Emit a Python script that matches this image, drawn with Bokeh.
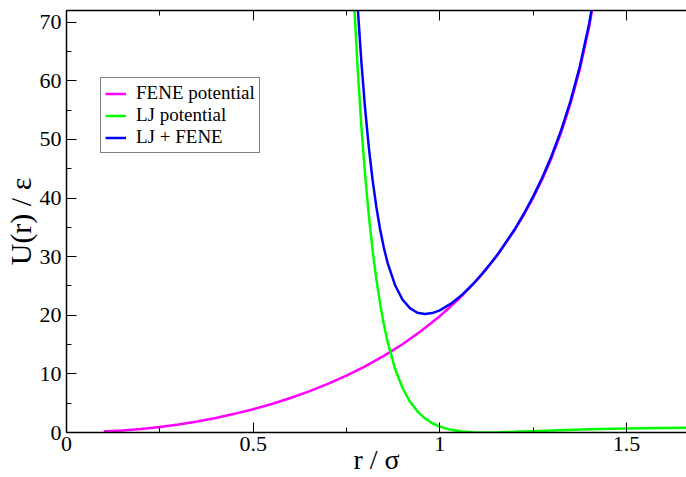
from bokeh.plotting import figure
from bokeh.models import FixedTicker, LinearAxis, Legend, LegendItem
from bokeh.embed import file_html
from bokeh.resources import INLINE

# ---- data ----
fene_r = [0.10, 0.15, 0.20, 0.25, 0.30, 0.35, 0.40, 0.45, 0.50, 0.55, 0.60, 0.65,
          0.70, 0.75, 0.80, 0.85, 0.90, 0.95, 1.00, 1.05, 1.10, 1.15, 1.20, 1.225,
          1.25, 1.275, 1.30, 1.325, 1.35, 1.375, 1.40, 1.42]
fene_u = [0.150, 0.339, 0.605, 0.951, 1.378, 1.889, 2.490, 3.183, 3.975, 4.873, 5.884, 7.020,
          8.290, 9.709, 11.296, 13.072, 15.062, 17.303, 19.838, 22.725, 26.044, 29.908, 34.481, 37.11,
          40.015, 43.27, 46.938, 51.14, 56.05, 61.91, 69.15, 76.45]

lj_r = [0.76, 0.77, 0.78, 0.79, 0.80, 0.81, 0.82, 0.83, 0.84, 0.85, 0.86, 0.88, 0.90,
        0.92, 0.94, 0.96, 0.98, 1.00, 1.03, 1.06, 1.09, 1.12, 1.16, 1.20, 1.30,
        1.40, 1.50, 1.60, 1.66]
lj_u = [87.96, 73.88, 62.11, 52.24, 43.95, 36.98, 31.12, 26.19, 22.03, 18.52, 15.55, 10.93, 7.64,
        5.28, 3.61, 2.42, 1.58, 1.00, 0.456, 0.168, 0.037, 0.000, 0.032, 0.109, 0.343,
        0.539, 0.680, 0.776, 0.818]

tot_r = [0.78, 0.79, 0.80, 0.81, 0.82, 0.83, 0.84, 0.85, 0.86, 0.88, 0.90, 0.92, 0.94,
         0.96, 0.98, 1.00, 1.03, 1.06, 1.09, 1.12, 1.16, 1.20, 1.225, 1.25, 1.275,
         1.30, 1.325, 1.35, 1.375, 1.40, 1.42]
tot_u = [72.75, 63.20, 55.25, 48.62, 43.10, 38.53, 34.73, 31.59, 29.00, 25.17, 22.70, 21.21, 20.44,
         20.21, 20.37, 20.84, 21.98, 23.52, 25.38, 27.52, 30.79, 34.59, 37.28, 40.24, 43.56,
         47.28, 51.54, 56.50, 62.40, 69.69, 77.02]

x_ticks = [0, 0.5, 1.0, 1.5]
x_minor = [0.25, 0.75, 1.25]
y_ticks = [0, 10, 20, 30, 40, 50, 60, 70]
y_minor = [5, 15, 25, 35, 45, 55, 65]
x_labels = {0: "0", 0.5: "0.5", 1.0: "1", 1.5: "1.5"}
top_labels = {0: "", 0.5: "", 1.0: "", 1.5: ""}

labels = ["FENE potential", "LJ potential", "LJ + FENE"]
colors = ["#ff00ff", "#00ff00", "#0000ff"]
x_title = "r / σ"
y_title = "U(r) / ε"

FONT = "Liberation Serif"

p = figure(width=686, height=477, x_range=(0, 1.661), y_range=(0, 72),
           output_backend="svg", toolbar_location=None,
           min_border_left=64, min_border_right=0, min_border_top=10, min_border_bottom=45)
p.grid.visible = False
p.outline_line_color = None
p.background_fill_color = "white"

r1 = p.line(fene_r, fene_u, line_color=colors[0], line_width=2.5)
r2 = p.line(lj_r, lj_u, line_color=colors[1], line_width=2.5)
r3 = p.line(tot_r, tot_u, line_color=colors[2], line_width=2.5)

def style(ax):
    ax.axis_line_color = "black"
    ax.axis_line_width = 1.5
    ax.major_tick_in = 10
    ax.major_tick_out = 0
    ax.minor_tick_in = 5
    ax.minor_tick_out = 0
    ax.major_tick_line_color = "black"
    ax.minor_tick_line_color = "black"
    ax.major_label_text_font = FONT
    ax.major_label_text_font_size = "22px"
    ax.major_label_text_color = "black"
    ax.axis_label_text_font = FONT
    ax.axis_label_text_font_style = "normal"
    ax.axis_label_text_color = "black"

xa = p.xaxis[0]
style(xa)
xa.ticker = FixedTicker(ticks=x_ticks, minor_ticks=x_minor)
xa.major_label_overrides = x_labels
xa.major_label_standoff = 4
xa.axis_label = x_title
xa.axis_label_text_font_size = "28px"
xa.axis_label_text_line_height = 0.6
xa.axis_label_standoff = -10

ya = p.yaxis[0]
style(ya)
ya.ticker = FixedTicker(ticks=y_ticks, minor_ticks=y_minor)
ya.major_label_standoff = 5
ya.axis_label = y_title
ya.axis_label_text_font_size = "30px"
ya.axis_label_standoff = 0

top = LinearAxis(ticker=FixedTicker(ticks=x_ticks, minor_ticks=x_minor))
style(top)
top.major_label_overrides = top_labels
top.major_label_standoff = 0
top.axis_label = None
p.add_layout(top, "above")

legend = Legend(items=[LegendItem(label=labels[0], renderers=[r1]),
                       LegendItem(label=labels[1], renderers=[r2]),
                       LegendItem(label=labels[2], renderers=[r3])],
                location=(34, 279))
legend.border_line_color = "black"
legend.border_line_width = 1
legend.background_fill_color = "white"
legend.background_fill_alpha = 1
legend.label_text_font = FONT
legend.label_text_font_size = "19px"
legend.label_text_color = "black"
legend.glyph_width = 21
legend.glyph_height = 21
legend.label_height = 21
legend.spacing = 0
legend.padding = 4
legend.margin = 0
legend.label_standoff = 10
p.add_layout(legend)

open("out.html", "w").write(file_html(p, INLINE))
